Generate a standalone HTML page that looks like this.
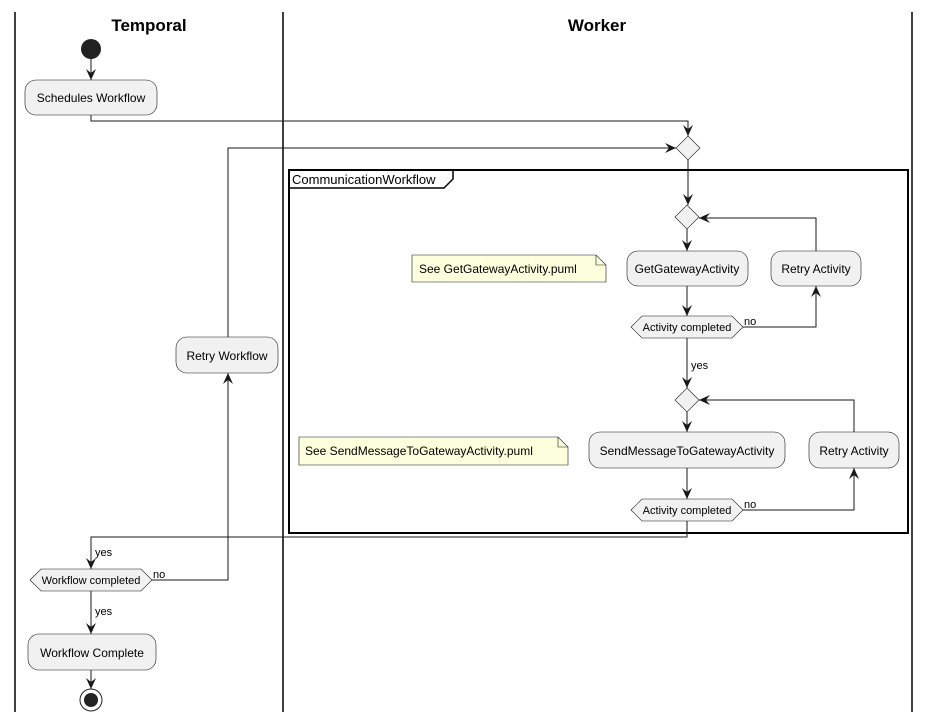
<!DOCTYPE html>
<html><head><meta charset="utf-8"><style>
html,body{margin:0;padding:0;background:#fff}
svg{display:block}
text{font-family:"Liberation Sans",sans-serif}
</style></head><body>
<svg width="930" height="723" viewBox="0 0 930 723" xmlns="http://www.w3.org/2000/svg">
<defs>
<marker id="a" viewBox="0 0 12 12" refX="11" refY="6" markerWidth="12" markerHeight="12" orient="auto" markerUnits="userSpaceOnUse">
<path d="M0,1 L11,6 L0,11 L4,6 Z" fill="#181818"/>
</marker>
</defs>
<g stroke="#000" stroke-width="1.5">
<line x1="15" y1="12" x2="15" y2="712"/>
<line x1="283" y1="12" x2="283" y2="712"/>
<line x1="912" y1="12" x2="912" y2="712"/>
</g>
<text x="149" y="31" font-size="17" font-weight="bold" text-anchor="middle">Temporal</text>
<text x="597" y="31" font-size="17" font-weight="bold" text-anchor="middle">Worker</text>

<!-- frame -->
<rect x="289" y="170" width="619" height="363" fill="none" stroke="#000" stroke-width="2"/>
<path d="M289,188 L444,188 L453,179 L453,170" fill="none" stroke="#000" stroke-width="1.5"/>
<text x="292" y="184" font-size="13">CommunicationWorkflow</text>

<g fill="none" stroke="#181818" stroke-width="1">
<line x1="91" y1="59" x2="91" y2="80" marker-end="url(#a)"/>
<polyline points="91,115 91,121 688,121 688,136" marker-end="url(#a)"/>
<polyline points="228,337 228,148 676,148" marker-end="url(#a)"/>
<line x1="688" y1="160" x2="688" y2="205" marker-end="url(#a)"/>
<line x1="687" y1="229" x2="687" y2="251" marker-end="url(#a)"/>
<line x1="687" y1="286" x2="687" y2="316" marker-end="url(#a)"/>
<polyline points="743,327 816,327 816,286" marker-end="url(#a)"/>
<polyline points="816,251 816,218 699,218" marker-end="url(#a)"/>
<line x1="687" y1="338" x2="687" y2="388" marker-end="url(#a)"/>
<line x1="687" y1="412" x2="687" y2="432" marker-end="url(#a)"/>
<line x1="687" y1="468" x2="687" y2="499" marker-end="url(#a)"/>
<polyline points="743,510 854,510 854,468" marker-end="url(#a)"/>
<polyline points="854,432 854,400 699,400" marker-end="url(#a)"/>
<polyline points="687,521 687,537 91,537 91,569" marker-end="url(#a)"/>
<polyline points="152,580 228,580 228,373" marker-end="url(#a)"/>
<line x1="91" y1="591" x2="91" y2="634" marker-end="url(#a)"/>
<line x1="91" y1="670" x2="91" y2="689" marker-end="url(#a)"/>
</g>

<circle cx="91" cy="49" r="10" fill="#222"/>
<circle cx="91" cy="700" r="11" fill="none" stroke="#222" stroke-width="1"/>
<circle cx="91" cy="700" r="7" fill="#222"/>

<g fill="#f1f1f1" stroke="#181818" stroke-width="0.6">
<rect x="25" y="80" width="132" height="35" rx="11"/>
<rect x="176" y="337" width="102" height="36" rx="11"/>
<rect x="627" y="251" width="121" height="35" rx="11"/>
<rect x="771" y="251" width="90" height="35" rx="11"/>
<rect x="589" y="432" width="196" height="36" rx="11"/>
<rect x="809" y="432" width="90" height="36" rx="11"/>
<rect x="28" y="634" width="128" height="36" rx="11"/>
<polygon points="688,136 700,148 688,160 676,148"/>
<polygon points="687,205 699,217 687,229 675,217"/>
<polygon points="687,388 699,400 687,412 675,400"/>
<polygon points="631,327 642,316 732,316 743,327 732,338 642,338"/>
<polygon points="631,510 642,499 732,499 743,510 732,521 642,521"/>
<polygon points="30,580 41,569 141,569 152,580 141,591 41,591"/>
</g>
<g fill="#feffdd" stroke="#181818" stroke-width="0.6">
<path d="M412,255 L596,255 L606,265 L606,282 L412,282 Z"/>
<path d="M596,255 L596,265 L606,265" fill="none"/>
<path d="M299,437 L558,437 L568,447 L568,465 L299,465 Z"/>
<path d="M558,437 L558,447 L568,447" fill="none"/>
</g>

<g font-size="12" text-anchor="middle" fill="#000">
<text x="91" y="102">Schedules Workflow</text>
<text x="227" y="360">Retry Workflow</text>
<text x="687" y="273">GetGatewayActivity</text>
<text x="816" y="273">Retry Activity</text>
<text x="687" y="455">SendMessageToGatewayActivity</text>
<text x="854" y="455">Retry Activity</text>
<text x="92" y="657">Workflow Complete</text>
</g>
<g font-size="11" text-anchor="middle">
<text x="687" y="331">Activity completed</text>
<text x="687" y="514">Activity completed</text>
<text x="91" y="584">Workflow completed</text>
</g>
<g font-size="11">
<text x="744" y="325">no</text>
<text x="744" y="508">no</text>
<text x="153" y="578">no</text>
<text x="691" y="369">yes</text>
<text x="95" y="556">yes</text>
<text x="95" y="615">yes</text>
</g>
<text x="419" y="273" font-size="12">See GetGatewayActivity.puml</text>
<text x="305" y="455" font-size="12">See SendMessageToGatewayActivity.puml</text>
</svg>
</body></html>
